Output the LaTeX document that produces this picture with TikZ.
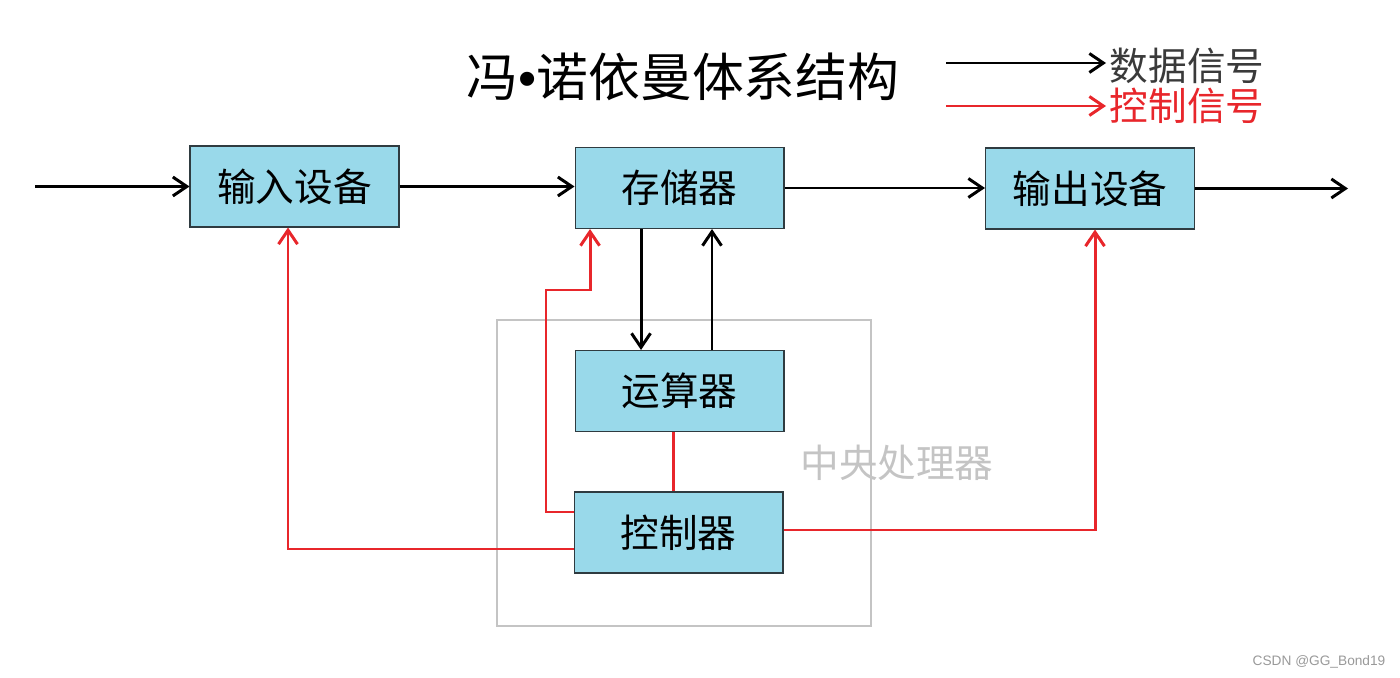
\documentclass[tikz,border=0pt]{standalone}
\usepackage{fontspec}
\setmainfont{Noto Sans CJK SC}
\newfontfamily\wmfont{Liberation Sans}
\usetikzlibrary{positioning,arrows.meta,calc}
\definecolor{unitfill}{HTML}{99D9EA}
\definecolor{unitedge}{HTML}{2F3B40}
\definecolor{ctrlred}{HTML}{E8262B}
\definecolor{cpugray}{HTML}{C4C4C4}
\definecolor{legendgray}{HTML}{3A3A3A}

\begin{document}
\begin{tikzpicture}[
  x=0.02cm, y=-0.02cm,
  unit/.style={draw=unitedge, line width=0.6pt, fill=unitfill, minimum width=4.18cm,
               minimum height=1.62cm, font=\fontsize{22}{26}\selectfont, align=center},
  dataarr/.style={-{Straight Barb[length=2.8mm, width=3.8mm]}, line width=1.7pt, black},
  ctrlarr/.style={-{Straight Barb[length=2.8mm, width=3.8mm]}, line width=1.7pt, ctrlred},
  ctrlline/.style={line width=1.7pt, ctrlred}
]
  \useasboundingbox (0,0) rectangle (1400,678);

  % title and legend
  \node[font=\fontsize{29.5}{34}\selectfont] (title) at (683,77) {冯{\wmfont •}诺依曼体系结构};
  \coordinate (dleg) at (946,63);
  \coordinate (cleg) at (946,106);
  \node[font=\fontsize{22}{26}\selectfont, text=legendgray, inner sep=2pt, anchor=west] (dlabel) at (1106,66) {数据信号};
  \node[font=\fontsize{22}{26}\selectfont, text=ctrlred, inner sep=2pt, anchor=west] (clabel) at (1106,106) {控制信号};
  \draw[dataarr] (dleg) -- (dleg -| dlabel.west);
  \draw[ctrlarr] (cleg) -- (cleg -| clabel.west);

  % central processing unit
  \draw[cpugray, line width=1.3pt] (497,320) rectangle (871,626);
  \node[font=\fontsize{22}{26}\selectfont, text=cpugray] (cpu) at (897,463) {中央处理器};

  % units
  \node[unit] (input) at (294.5,186.5) {输入设备};
  \node[unit] (memory) at (679.5,188) {存储器};
  \node[unit] (output) at (1090,188.5) {输出设备};
  \node[unit] (alu) at (679.5,391) {运算器};
  \node[unit] (ctrl) at (678.5,532.5) {控制器};

  % data signals
  \coordinate (src) at (35,186.5);
  \coordinate (dst) at (1348,188.5);
  \draw[dataarr] (src) -- (input);
  \draw[dataarr] (input.east) -- (input.east -| memory.west);
  \draw[dataarr] (memory.east) -- (memory.east -| output.west);
  \draw[dataarr] (output) -- (dst);
  \draw[dataarr] ([xshift=-0.77cm]memory.south) -- ([xshift=-0.77cm]alu.north);
  \draw[dataarr] ([xshift=0.65cm]alu.north) -- ([xshift=0.65cm]memory.south);

  % control signals
  \coordinate (memtap) at (546,290);
  \draw[ctrlline] ([xshift=-0.13cm]alu.south) -- ([xshift=-0.13cm]alu.south |- ctrl.north);
  \draw[ctrlarr] ([yshift=0.41cm]ctrl.west) -| (memtap) -| ([xshift=-1.79cm]memory.south);
  \draw[ctrlarr] ([yshift=-0.33cm]ctrl.west) -| ([xshift=-0.13cm]input.south);
  \draw[ctrlarr] ([yshift=0.05cm]ctrl.east) -| ([xshift=0.1cm]output.south);

  \node[font=\wmfont\fontsize{7.8}{9.5}\selectfont, text=gray!80] (mark) at (1319,662) {CSDN @GG\_Bond19};
\end{tikzpicture}
\end{document}
